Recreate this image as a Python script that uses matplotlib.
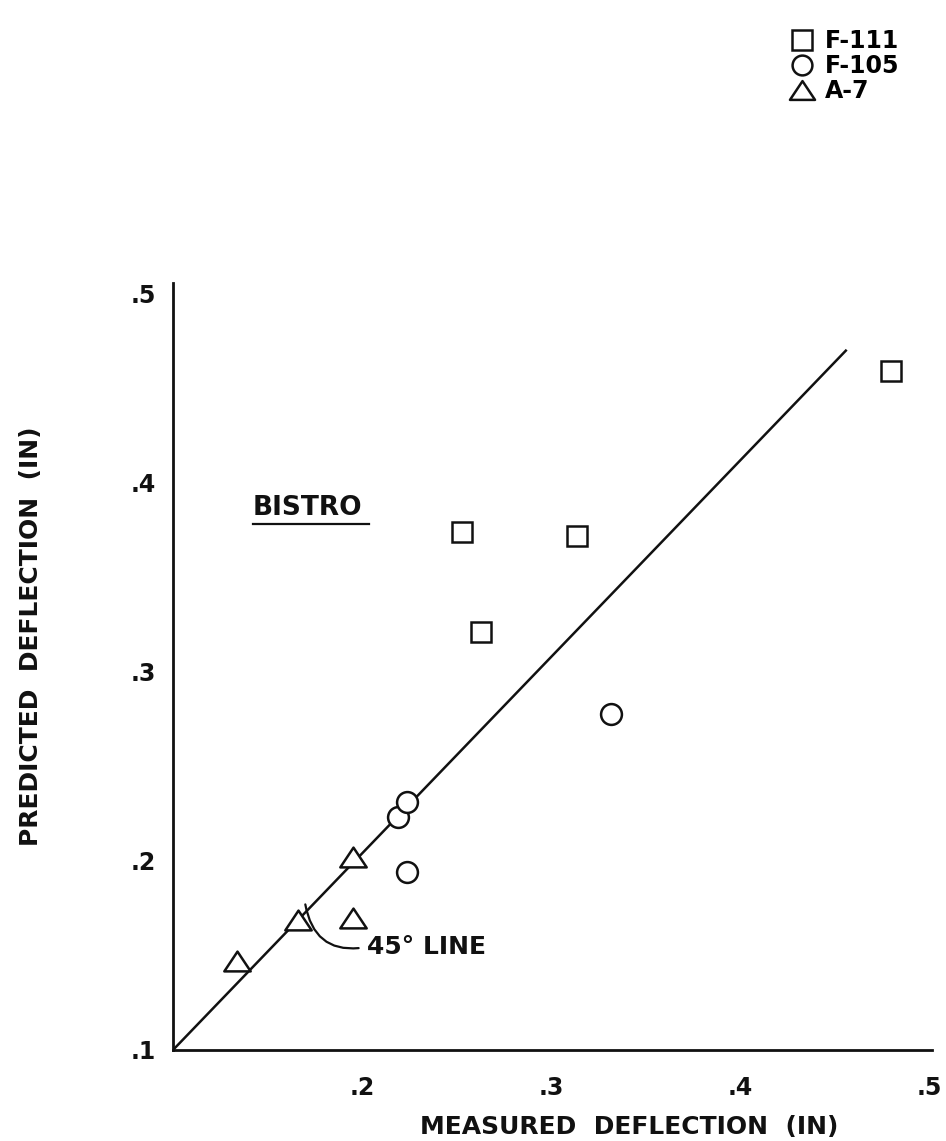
import matplotlib
matplotlib.use("Agg")
import matplotlib.pyplot as plt
from matplotlib.path import Path

# measured vs predicted deflection, inches
f111_measured = [0.253, 0.263, 0.314, 0.480]
f111_predicted = [0.374, 0.321, 0.372, 0.459]

f105_measured = [0.219, 0.224, 0.224, 0.332]
f105_predicted = [0.223, 0.231, 0.194, 0.278]

a7_measured = [0.134, 0.166, 0.195, 0.195]
a7_predicted = [0.147, 0.169, 0.202, 0.170]

line45_x = [0.1, 0.456]
line45_y = [0.1, 0.470]

x_ticks = [0.2, 0.3, 0.4, 0.5]
x_ticklabels = ['.2', '.3', '.4', '.5']
y_ticks = [0.1, 0.2, 0.3, 0.4, 0.5]
y_ticklabels = ['.1', '.2', '.3', '.4', '.5']

plt.rcParams['font.family'] = 'DejaVu Sans'
plt.rcParams['font.weight'] = 'bold'
ink = '#111111'

fig = plt.figure(figsize=(9.46, 11.41), dpi=100)
ax = fig.add_axes([0.1829, 0.0798, 0.8023, 0.6722])
ax.set_xlim(0.1, 0.5016)
ax.set_ylim(0.1, 0.5058)

ax.plot(line45_x, line45_y, color=ink, lw=1.8, zorder=1)

# flattened open triangle
tri = Path([(0, 0.75), (-1, -0.75), (1, -0.75), (0, 0.75)], closed=True)
mk = dict(linestyle='none', markerfacecolor='white', markeredgecolor=ink,
          markeredgewidth=1.8, zorder=3)
h1, = ax.plot(f111_measured, f111_predicted, marker='s', markersize=15, label='F-111', **mk)
h2, = ax.plot(f105_measured, f105_predicted, marker='o', markersize=15, label='F-105', **mk)
h3, = ax.plot(a7_measured, a7_predicted, marker=tri, markersize=19, label='A-7', **mk)

for side in ['top', 'right']:
    ax.spines[side].set_visible(False)
for side in ['left', 'bottom']:
    ax.spines[side].set_linewidth(2.0)
    ax.spines[side].set_color(ink)

ax.set_xticks(x_ticks)
ax.set_xticklabels(x_ticklabels)
ax.set_yticks(y_ticks)
ax.set_yticklabels(y_ticklabels)
ax.tick_params(axis='both', length=0, labelsize=17, colors=ink)
ax.tick_params(axis='x', pad=19)
ax.tick_params(axis='y', pad=12)

ax.set_xlabel('MEASURED  DEFLECTION  (IN)', fontsize=18, fontweight='bold', color=ink)
ax.xaxis.set_label_coords(0.601, -0.085)
ax.set_ylabel('PREDICTED  DEFLECTION  (IN)', fontsize=18, fontweight='bold', color=ink)
ax.yaxis.set_label_coords(-0.171, 0.54)

# label for the group of tests
ax.text(0.1423, 0.387, 'BISTRO', fontsize=19, ha='left', va='center', color=ink)
ax.plot([0.1423, 0.2035], [0.3785, 0.3785], color=ink, lw=1.6, clip_on=False)

ax.annotate('45° LINE', xy=(0.170, 0.177), xytext=(0.2026, 0.1545),
            fontsize=18, ha='left', va='center', color=ink,
            arrowprops=dict(arrowstyle='-', color=ink, lw=1.6, relpos=(0, 0.5),
                            connectionstyle='arc3,rad=-0.5', shrinkA=4, shrinkB=0))

fig.legend(handles=[h1, h2, h3], loc='upper left', bbox_to_anchor=(0.825, 0.985),
           frameon=False, fontsize=17, handlelength=0.8, handletextpad=0.6,
           labelspacing=0.05, borderpad=0, markerscale=0.95)

fig.savefig('out.png', dpi=100)
